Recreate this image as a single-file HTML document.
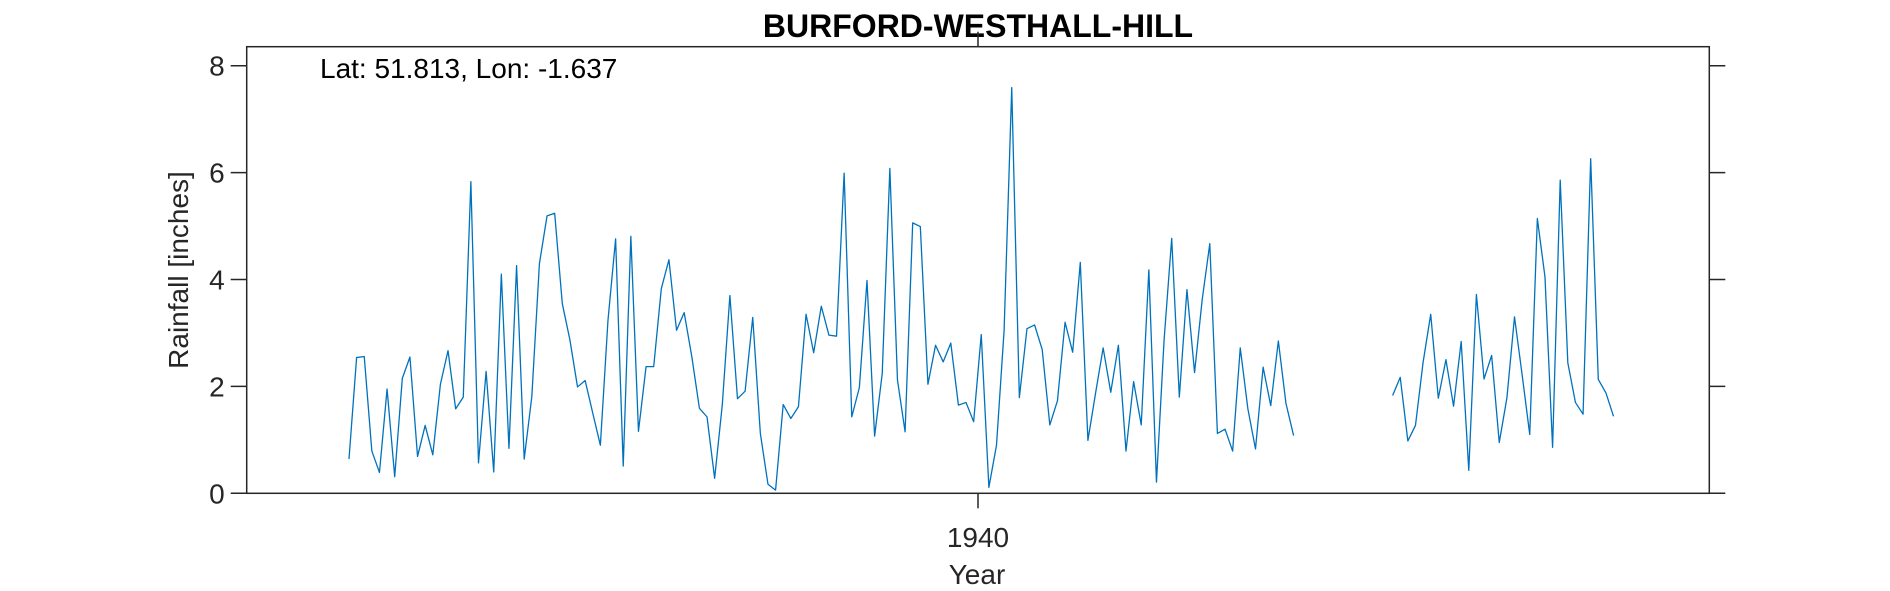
<!DOCTYPE html>
<html><head><meta charset="utf-8"><style>
html,body{margin:0;padding:0;background:#fff;}
svg{display:block;font-family:"Liberation Sans",Arial,sans-serif;}
</style></head><body>
<svg id="chart" width="1890" height="591" viewBox="0 0 1890 591" xmlns="http://www.w3.org/2000/svg">
<rect x="0" y="0" width="1890" height="591" fill="#fff"/>
<text x="978" y="37" text-anchor="middle" font-size="32" font-weight="bold" fill="#000">BURFORD-WESTHALL-HILL</text>
<g id="axes"></g>
<path id="series" fill="none" stroke="#0072BD" stroke-width="1.3" stroke-linejoin="round"/>
<text x="320" y="78" font-size="28" fill="#000">Lat: 51.813, Lon: -1.637</text>
<text x="977" y="584" text-anchor="middle" font-size="28" fill="#262626">Year</text>
<text x="0" y="0" transform="translate(188,270) rotate(-90)" text-anchor="middle" font-size="28" fill="#262626">Rainfall [inches]</text>
</svg>
<script>
const startYear = 1933.119;
const stepYears = 1/12;
const rainfall = [0.64,2.54,2.56,0.79,0.39,1.95,0.31,2.15,2.55,0.69,1.27,0.72,2.04,2.67,1.58,1.80,5.83,0.57,2.28,0.40,4.10,0.84,4.26,0.64,1.81,4.30,5.19,5.24,3.55,2.87,1.99,2.11,1.50,0.90,3.24,4.76,0.51,4.81,1.16,2.37,2.37,3.83,4.37,3.05,3.38,2.56,1.59,1.43,0.28,1.65,
3.70,1.77,1.91,3.29,1.12,0.17,0.06,1.66,1.40,1.62,3.35,2.63,3.50,2.96,2.94,5.99,1.43,1.98,3.98,1.07,2.24,6.08,2.12,1.15,5.06,4.99,2.04,2.77,2.46,2.81,1.65,1.70,1.34,2.97,0.11,0.90,3.05,7.59,1.79,3.08,3.15,2.69,1.28,1.73,3.20,2.64,4.32,0.99,1.87,2.72,1.89,2.77,0.79,2.09,1.28,4.18,0.21,2.87,4.77,1.80,3.81,2.26,3.62,4.67,1.12,
1.20,0.79,2.72,1.58,0.83,2.36,1.64,2.85,1.68,1.08,
null,null,null,null,null,null,null,null,null,null,null,null,
1.83,2.17,0.98,1.27,2.45,3.35,1.78,2.50,1.63,2.84,0.43,3.72,2.14,2.58,0.95,1.78,3.30,2.22,1.10,5.14,4.05,0.86,5.86,2.44,1.70,1.48,6.26,2.13,1.88,1.44];
const yTicks = [0,2,4,6,8];
const yTickLabels = ["0","2","4","6","8"];
const xTicks = [1940];
const xTickLabels = ["1940"];
const xDomain = [1932, 1948];
const yDomain = [0, 8.356];

const L=246.7,R=1709.3,T=46.7,B=493.3;
function xs(v){return L+(v-xDomain[0])/(xDomain[1]-xDomain[0])*(R-L);}
function ys(v){return B-(v-yDomain[0])/(yDomain[1]-yDomain[0])*(B-T);}
const NS="http://www.w3.org/2000/svg";
const axes=document.getElementById('axes');
function mk(tag,attrs){const e=document.createElementNS(NS,tag);for(const k in attrs)e.setAttribute(k,attrs[k]);axes.appendChild(e);return e;}
const box=mk('rect',{x:L,y:T,width:R-L,height:B-T,fill:'none',stroke:'#262626','stroke-width':1.5});


yTicks.forEach((v,i)=>{
  const y=ys(v);
  const t1=mk('line',{x1:L-16,y1:y,x2:L,y2:y,stroke:'#262626','stroke-width':1.5});
  
  
  const t2=mk('line',{x1:R,y1:y,x2:R+16,y2:y,stroke:'#262626','stroke-width':1.5});
  
  
  const lb=mk('text',{x:L-22,y:y+10,'text-anchor':'end','font-size':28,fill:'#262626'});
  lb.textContent=yTickLabels[i];
  
  
});
xTicks.forEach((v,i)=>{
  const x=xs(v);
  const t1=mk('line',{x1:x,y1:B,x2:x,y2:B+15,stroke:'#262626','stroke-width':1.5});
  
  
  const t2=mk('line',{x1:x,y1:T-15,x2:x,y2:T,stroke:'#262626','stroke-width':1.5});
  
  
  const lb=mk('text',{x:x,y:547,'text-anchor':'middle','font-size':28,fill:'#262626'});
  lb.textContent=xTickLabels[i];
  
  
});
let d='',pen=false;
rainfall.forEach((v,i)=>{
  if(v===null){pen=false;return;}
  const x=xs(startYear+i*stepYears),y=ys(v);
  d+=(pen?'L':'M')+x.toFixed(2)+' '+y.toFixed(2)+' ';
  pen=true;
});
document.getElementById('series').setAttribute('d',d);
</script>
</body></html>
